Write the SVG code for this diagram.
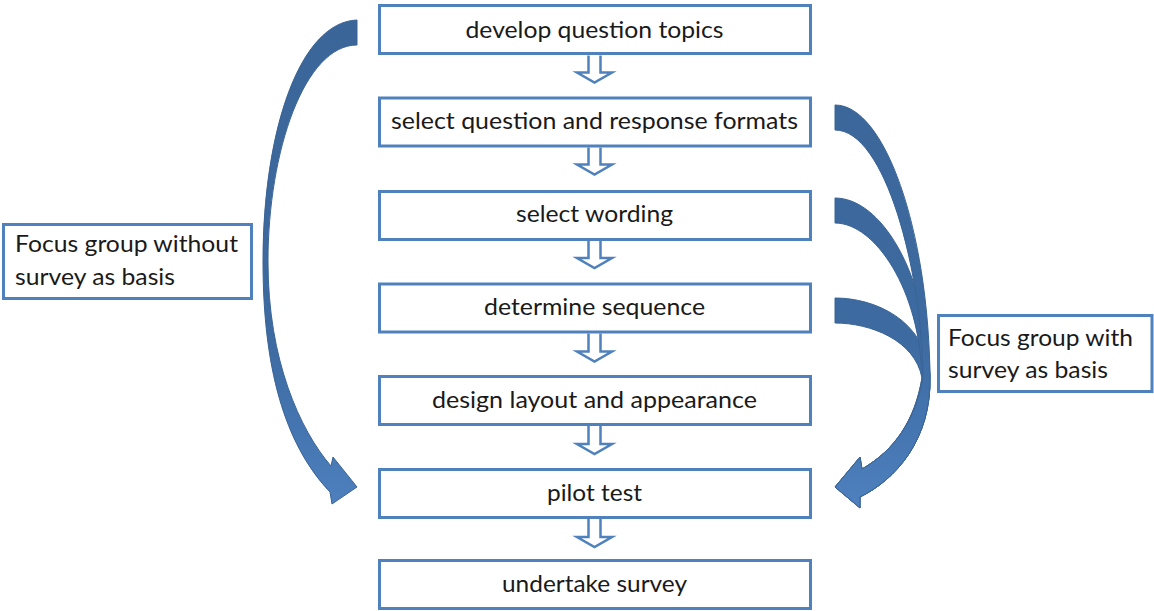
<svg xmlns="http://www.w3.org/2000/svg" width="1154" height="611" viewBox="0 0 1154 611">
<defs>
<style>
.box{fill:#FFFFFF;stroke:#4F81BD;stroke-width:3}
.flow{fill:#FFFFFF;stroke:#4F81BD;stroke-width:2.5;stroke-linejoin:miter}
.t{font-family:Lato,"Liberation Sans",sans-serif;font-size:23px;fill:#1A1A1A;text-anchor:middle}
.l{font-family:Lato,"Liberation Sans",sans-serif;font-size:23px;fill:#1A1A1A}
.big{fill:url(#g);stroke:#3A6496;stroke-width:1;stroke-linejoin:round}
</style>
<linearGradient id="g" gradientUnits="userSpaceOnUse" x1="0" y1="0" x2="0" y2="611">
<stop offset="0" stop-color="#3A6598"/>
<stop offset="0.55" stop-color="#3D6AA0"/>
<stop offset="0.72" stop-color="#4677B3"/>
<stop offset="0.85" stop-color="#4F82BF"/>
<stop offset="1" stop-color="#5285C2"/>
</linearGradient>
</defs>
<rect width="1154" height="611" fill="#FFFFFF"/>

<g id="connectors">
<path class="flow" d="M588.5 55.5V72.5H577L594.5 82.5L612 72.5H600.5V55.5"/>
<path class="flow" d="M588.5 147.5V164.5H577L594.5 174.5L612 164.5H600.5V147.5"/>
<path class="flow" d="M588.5 241V258H577L594.5 268L612 258H600.5V241"/>
<path class="flow" d="M588.5 333.5V351.5H577L594.5 361.5L612 351.5H600.5V333.5"/>
<path class="flow" d="M588.5 426V444H577L594.5 454L612 444H600.5V426"/>
<path class="flow" d="M588.5 519V537H577L594.5 547L612 537H600.5V519"/>
<path id="arrow-left" class="big" d="M357 20C300 22 263 130 263 262C263 380 290 450 330 492L332 504L357 487L333 457L331 466C300 430 268 360 268 262C268 150 305 45 357 45Z"/>
<path id="arrow-right-3" class="big" d="M835 298C875 298 925 320 930 375C932 440 895 480 860 497L860 508L835 487L860 457L862 469C895 450 915 420 922 378C915 340 870 323 835 323Z"/>
<path id="arrow-right-2" class="big" d="M835 198C880 198 926 270 930 375C932 440 895 480 860 497L860 508L835 487L860 457L862 469C895 450 915 420 922 378C920 290 875 223 835 223Z"/>
<path id="arrow-right-1" class="big" d="M835 105C885 105 928 230 930 375C932 440 895 480 860 497L860 508L835 487L860 457L862 469C895 450 915 420 923 378C922 270 885 130 835 130Z"/>
</g>

<g id="n1"><rect class="box" x="379.5" y="5.5" width="431" height="48"/><text class="t" x="594.5" y="38" textLength="258" lengthAdjust="spacingAndGlyphs">develop question topics</text></g>
<g id="n2"><rect class="box" x="379.5" y="98" width="431" height="48"/><text class="t" x="594.5" y="129" textLength="407" lengthAdjust="spacingAndGlyphs">select question and response formats</text></g>
<g id="n3"><rect class="box" x="379.5" y="191.5" width="431" height="48"/><text class="t" x="594.5" y="222" textLength="157" lengthAdjust="spacingAndGlyphs">select wording</text></g>
<g id="n4"><rect class="box" x="379.5" y="284" width="431" height="48"/><text class="t" x="594.5" y="315" textLength="221" lengthAdjust="spacingAndGlyphs">determine sequence</text></g>
<g id="n5"><rect class="box" x="379.5" y="376.5" width="431" height="48"/><text class="t" x="594.5" y="408" textLength="325" lengthAdjust="spacingAndGlyphs">design layout and appearance</text></g>
<g id="n6"><rect class="box" x="379.5" y="469.5" width="431" height="48"/><text class="t" x="594.5" y="501" textLength="95" lengthAdjust="spacingAndGlyphs">pilot test</text></g>
<g id="n7"><rect class="box" x="379.5" y="560.5" width="431" height="48"/><text class="t" x="594.5" y="592" textLength="185" lengthAdjust="spacingAndGlyphs">undertake survey</text></g>

<g id="label-left"><rect class="box" x="3.5" y="224.5" width="248" height="74"/><text class="l" x="15" y="252" textLength="223" lengthAdjust="spacingAndGlyphs">Focus group without</text><text class="l" x="15" y="285" textLength="160" lengthAdjust="spacingAndGlyphs">survey as basis</text></g>
<g id="label-right"><rect class="box" x="938.5" y="315.5" width="213.5" height="76"/><text class="l" x="948" y="346" textLength="185" lengthAdjust="spacingAndGlyphs">Focus group with</text><text class="l" x="948" y="378" textLength="160" lengthAdjust="spacingAndGlyphs">survey as basis</text></g>
</svg>
